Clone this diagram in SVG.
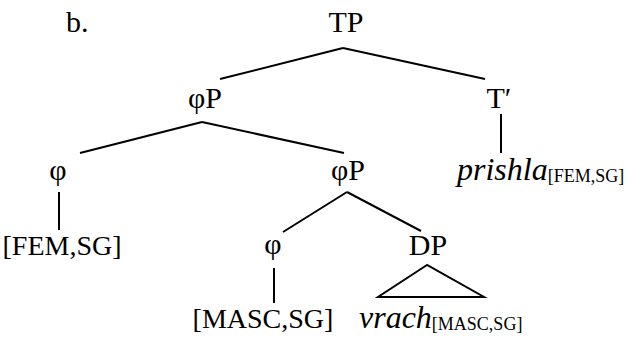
<svg xmlns="http://www.w3.org/2000/svg" width="627" height="339" viewBox="0 0 627 339" font-family="'Liberation Serif', 'Times New Roman', 'DejaVu Serif', serif">
<style>
text{font-family:"Liberation Serif","Times New Roman",Times,"DejaVu Serif",serif;font-size:30px;fill:#000}
.m{text-anchor:middle}
.f{font-size:28px}
.i{font-style:italic;font-size:32px}
.s{font-size:18px;font-style:normal}
line,polygon{stroke:#000;stroke-width:2;fill:none}
</style>
<rect width="627" height="339" fill="#fff"/>
<text x="66" y="32">b.</text>
<g id="connectors">
<line x1="343" y1="48" x2="220" y2="79"/>
<line x1="343" y1="48" x2="485" y2="79"/>
<line x1="202" y1="122" x2="80" y2="153"/>
<line x1="202" y1="122" x2="344" y2="153"/>
<line x1="501" y1="114" x2="501" y2="153"/>
<line x1="59" y1="192" x2="59" y2="230"/>
<line x1="347" y1="192" x2="283" y2="232"/>
<line x1="347" y1="192" x2="421" y2="231"/>
<line x1="274" y1="268" x2="274" y2="303"/>
<polygon points="427,265 378,297 484,297"/>
</g>
<g id="TP"><text class="m" x="346" y="32">TP</text></g>
<g id="phiP1"><text class="m" x="205" y="108">φP</text></g>
<g id="Tbar"><text class="m" x="499" y="108">T′</text></g>
<g id="phi1"><text class="m" x="58" y="180">φ</text></g>
<g id="phiP2"><text class="m" x="348" y="180">φP</text></g>
<g id="prishla"><text x="457" y="180" class="i">prishla<tspan class="s" dy="2">[FEM,SG]</tspan></text></g>
<g id="fem"><text class="m f" x="62" y="255">[FEM,SG]</text></g>
<g id="phi2"><text class="m" x="273" y="254">φ</text></g>
<g id="DP"><text class="m" x="428" y="255">DP</text></g>
<g id="masc"><text class="m f" x="263" y="328">[MASC,SG]</text></g>
<g id="vrach"><text x="359" y="328" class="i">vrach<tspan class="s" dy="2">[MASC,SG]</tspan></text></g>
</svg>
